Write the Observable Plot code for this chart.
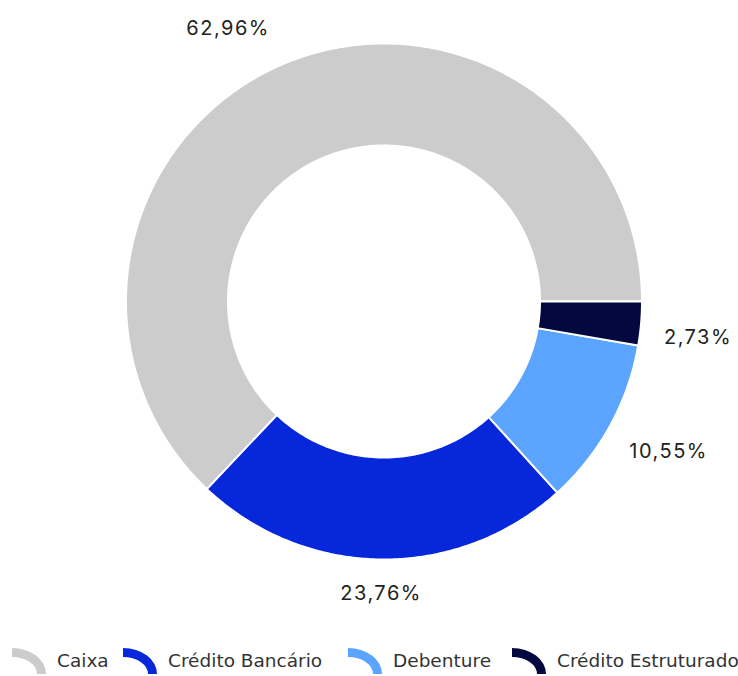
<!DOCTYPE html>
<html>
<head>
<meta charset="utf-8">
<script src="https://cdn.jsdelivr.net/npm/d3@7"></script>
<script src="https://cdn.jsdelivr.net/npm/@observablehq/plot@0.6"></script>
<style>
  html, body { margin: 0; padding: 0; background: #fff; width: 738px; height: 676px; overflow: hidden; }
  #chart { position: absolute; left: 0; top: 0; }
  #legend { position: absolute; left: 0; top: 646px; width: 738px; height: 30px; white-space: nowrap;
            font-family: "DejaVu Sans", Verdana, sans-serif; font-size: 18.5px; color: #333; }
  .item { position: absolute; top: 0; display: flex; align-items: center; height: 28px; }
  .item svg { margin-right: 10px; }
</style>
</head>
<body>
<div id="chart"></div>
<div id="legend"></div>
<script>
const categories = ["Caixa", "Crédito Bancário", "Debenture", "Crédito Estruturado"];
const values = [62.96, 23.76, 10.55, 2.73];
const labels = ["62,96%", "23,76%", "10,55%", "2,73%"];
const colors = ["#cccccc", "#0727db", "#5ba4ff", "#03093f"];
const legendLeft = [12, 123, 348, 512];

const R0 = 156, R1 = 258, RL = 288;
const total = d3.sum(values);
let acc = 0;
const slices = categories.map((c, i) => {
  const a0 = acc / total * 2 * Math.PI;
  acc += values[i];
  const a1 = acc / total * 2 * Math.PI;
  return {category: c, a0, a1, mid: (a0 + a1) / 2, label: labels[i]};
});

// polygon outline for each ring segment (angles CCW from 3 o'clock)
const pts = [];
for (const s of slices) {
  const n = Math.max(8, Math.ceil((s.a1 - s.a0) / 0.01));
  for (let k = 0; k <= n; k++) {
    const a = s.a0 + (s.a1 - s.a0) * k / n;
    pts.push({category: s.category, x: R1 * Math.cos(a), y: R1 * Math.sin(a)});
  }
  for (let k = n; k >= 0; k--) {
    const a = s.a0 + (s.a1 - s.a0) * k / n;
    pts.push({category: s.category, x: R0 * Math.cos(a), y: R0 * Math.sin(a)});
  }
}

const lab = slices.map(s => ({
  ...s,
  x: RL * Math.cos(s.mid), y: RL * Math.sin(s.mid),
  side: Math.cos(s.mid) > 0.3 ? "right" : Math.cos(s.mid) < -0.3 ? "left" : "mid"
}));

const textOpts = {x: "x", y: "y", text: "label", fontSize: 20, fill: "#222",
  fontFamily: "Inter, 'DejaVu Sans', sans-serif", lineAnchor: "middle"};

const chart = Plot.plot({
  width: 738, height: 635,
  margin: 0,
  style: {letterSpacing: "1.5px"},
  x: {domain: [-383.5, 354.5], range: [0, 738], axis: null},
  y: {domain: [-334, 301], range: [635, 0], axis: null},
  color: {domain: categories, range: colors},
  marks: [
    Plot.line(pts, {x: "x", y: "y", z: "category", fill: "category", stroke: "#fff", strokeWidth: 2, curve: "linear-closed"}),
    Plot.text(lab.filter(d => d.side === "right"), {...textOpts, textAnchor: "start", dx: -7, dy: 11}),
    Plot.text(lab.filter(d => d.side === "left"), {...textOpts, textAnchor: "end", dy: -8}),
    Plot.text(lab.filter(d => d.side === "mid"), {...textOpts, textAnchor: "middle", dy: 4})
  ]
});
document.getElementById("chart").append(chart);

const legend = document.getElementById("legend");
categories.forEach((c, i) => {
  const item = document.createElement("div");
  item.className = "item";
  item.style.left = legendLeft[i] + "px";
  item.innerHTML = `<svg width="35" height="27" viewBox="0 0 35 27"><path d="M0,1 A34,26 0 0 1 34,27 L25,27 A25,17 0 0 0 0,10 Z" fill="${colors[i]}"/></svg><span>${c}</span>`;
  legend.append(item);
});
</script>
</body>
</html>
